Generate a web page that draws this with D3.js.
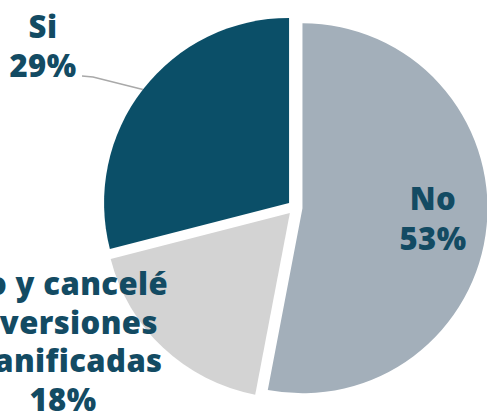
<!DOCTYPE html>
<html>
<head>
<meta charset="utf-8">
<script src="https://cdn.jsdelivr.net/npm/d3@7"></script>
<style>
  body { margin: 0; background: #fff; }
  svg { display: block; }
  .lbl { font-family: "Open Sans", sans-serif; font-weight: 800; font-size: 31px; letter-spacing: 0.4px; fill: #134b63; }
</style>
</head>
<body>
<div id="chart"></div>
<script>
// data, in drawing order (clockwise from 12 o'clock)
const categories = ["No", "Retraso y cancelé inversiones planificadas", "Si"];
const values = [53, 18, 29];
const colors = ["#a3afba", "#d3d3d3", "#0b4f68"];
const labelLines = [
    ["No", "53%"],
    ["Retraso y cancelé", "inversiones", "planificadas", "18%"],
    ["Si", "29%"]
];

const W = 487, H = 413;
const cx = 295, cy = 207.5, R = 185, explode = 7.5;

// label anchors (x centre, first baseline, line step)
const labelPos = [
    { x: 433, y: 210, step: 40, anchor: "middle" },
    { x: 168, y: 295, step: 38.5, anchor: "end" },
    { x: 43, y: 38, step: 39, anchor: "middle" }
];

const svg = d3.select("#chart").append("svg").attr("width", W).attr("height", H);

const pie = d3.pie().sort(null).value(d => d.value);
const arcs = pie(categories.map((c, i) => ({ name: c, value: values[i], i: i })));
const arc = d3.arc().innerRadius(0).outerRadius(R);

function dir(d) {
    const a = (d.startAngle + d.endAngle) / 2;
    return [Math.sin(a), -Math.cos(a)];
}

const g = svg.append("g").attr("transform", `translate(${cx},${cy})`);

g.selectAll("path")
  .data(arcs)
  .enter()
  .append("path")
  .attr("d", arc)
  .attr("fill", d => colors[d.data.i])
  .attr("transform", d => {
      const [ux, uy] = dir(d);
      return `translate(${ux * explode},${uy * explode})`;
  });

// leader line for "Si"
const si = arcs[2];
const [sx, sy] = dir(si);
const p0 = [cx + sx * (explode + R), cy + sy * (explode + R)];
svg.append("polyline")
  .attr("points", [p0, [93, 77], [82, 76]].map(p => p.join(",")).join(" "))
  .attr("fill", "none")
  .attr("stroke", "#a9a9a9")
  .attr("stroke-width", 1.5);

// labels
arcs.forEach(d => {
    const pos = labelPos[d.data.i];
    const lines = labelLines[d.data.i];
    const t = svg.append("text").attr("class", "lbl");
    lines.forEach((ln, k) => {
        // first line of the long label is right-anchored, the rest centred
        const anchor = (pos.anchor === "end" && k === 0) ? "end" : "middle";
        const x = (pos.anchor === "end" && k > 0) ? 63 : pos.x;
        t.append("tspan")
          .attr("x", x)
          .attr("y", pos.y + k * pos.step)
          .attr("text-anchor", anchor)
          .text(ln);
    });
});
</script>
</body>
</html>
